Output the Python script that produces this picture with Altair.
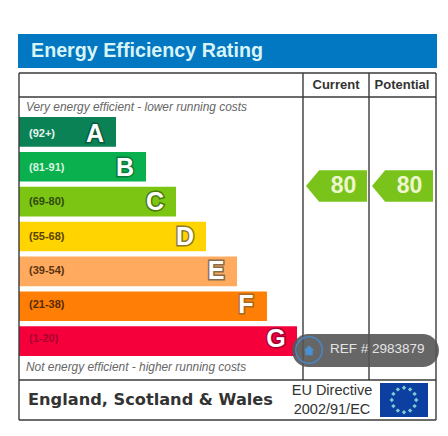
import math
import altair as alt

bands = ["A", "B", "C", "D", "E", "F", "G"]
ranges = ["(92+)", "(81-91)", "(69-80)", "(55-68)", "(39-54)", "(21-38)", "(1-20)"]
lengths = [97, 127, 157, 187, 218, 248, 278]
band_colors = ["#0a8256", "#0ab04e", "#7cc512", "#ffd400", "#ffaa5e", "#ff7f06", "#f6003c"]
label_colors = ["#e8f5ee", "#d8f5e0", "#2f4a10", "#5a4300", "#5a3312", "#5a2a05", "#a80030"]
letter_strokes = ["#0a5a3c", "#0a7a3c", "#4a7a10", "#8a7a30", "#8a6a4a", "#a86a20", "#a80030"]
columns = ["Current", "Potential"]
ratings = [80, 80]


def fx(v):
    return v - 8


def fy(v):
    return v - 8


one = alt.Data(values=[{"a": 1}])
layers = []


def rect(x1, y1, x2, y2, color, **kw):
    return alt.Chart(one).mark_rect(color=color, **kw).encode(
        x=alt.value(fx(x1)), x2=alt.value(fx(x2)), y=alt.value(fy(y1)), y2=alt.value(fy(y2)))


def rule(x1, y1, x2, y2, width=1.4, color="#3a3a3a"):
    return alt.Chart(one).mark_rule(color=color, strokeWidth=width).encode(
        x=alt.value(fx(x1)), x2=alt.value(fx(x2)), y=alt.value(fy(y1)), y2=alt.value(fy(y2)))


def label(x, y, s, **kw):
    return alt.Chart(one).mark_text(text=s, baseline="middle", **kw).encode(
        x=alt.value(fx(x)), y=alt.value(fy(y)))


# header
layers.append(rect(18, 34, 437, 68, "#0277c2"))
layers.append(label(31, 51, "Energy Efficiency Rating", align="left", font="Liberation Sans",
                    fontSize=19.7, fontWeight="bold", color="#d8f4f6"))

# bands
rows = [dict(band=b, rng=r, length=l, fill=c, lab=lc, st=s)
        for b, r, l, c, lc, s in zip(bands, ranges, lengths, band_colors, label_colors, letter_strokes)]
src = alt.Data(values=rows)
xs = alt.Scale(domain=[-11, 421], range=[0, 432])
ys = alt.Scale(domain=bands, range=[109, 348], paddingInner=0.15, paddingOuter=0)
X = alt.X("length:Q", scale=xs, axis=None)
Y = alt.Y("band:N", scale=ys, axis=None)
layers.append(alt.Chart(src).mark_bar(stroke=None).encode(
    x=X.stack(None), y=Y, color=alt.Color("fill:N", scale=None)))
layers.append(alt.Chart(src).mark_text(align="left", baseline="middle", font="Liberation Sans",
                                       fontSize=11, fontWeight="bold").encode(
    x=alt.value(fx(29)), y=Y, text="rng:N", color=alt.Color("lab:N", scale=None)))
layers.append(alt.Chart(src).mark_text(align="center", baseline="middle", font="Liberation Sans",
                                       fontSize=25, fontWeight="bold", dx=-21,
                                       strokeWidth=3).encode(
    x=X, y=Y, text="band:N", stroke=alt.Stroke("st:N", scale=None)))
layers.append(alt.Chart(src).mark_text(align="center", baseline="middle", font="Liberation Sans",
                                       fontSize=25, fontWeight="bold", dx=-21,
                                       fill="#ffffff").encode(
    x=X, y=Y, text="band:N"))

# frame
for seg in [(19, 73, 436, 73), (19, 97, 436, 97), (19, 380, 436, 380), (19, 420, 436, 420),
            (19, 73, 19, 420), (436, 73, 436, 420), (303, 73, 303, 380), (369, 73, 369, 380)]:
    layers.append(rule(*seg))

# column heads & rating arrows
arrow = alt.Data(values=[dict(col=c, rating=r) for c, r in zip(columns, ratings)])
cx = alt.X("col:N", scale=alt.Scale(domain=columns, range=[328.5, 394.5], type="point", padding=0),
           axis=None)
ry = alt.Y("rating:Q", scale=alt.Scale(domain=[0, 100], range=[348, 135.5]), axis=None)
tag = "M-1 0L-0.57 -0.52L1 -0.52L1 0.52L-0.57 0.52Z"
layers.append(alt.Chart(arrow).mark_point(shape=tag, size=61 * 61, filled=True, opacity=1,
                                          color="#79c31b", strokeWidth=0).encode(x=cx, y=ry))
layers.append(alt.Chart(arrow).mark_text(font="Liberation Sans", fontSize=23, fontWeight="bold",
                                         color="#eef6d0", dx=7, baseline="middle").encode(
    x=cx, y=ry, text="rating:Q"))
layers.append(label(336, 85, "Current", align="center", font="Liberation Sans", fontSize=13,
                    fontWeight="bold", color="#333333"))
layers.append(label(402, 85, "Potential", align="center", font="Liberation Sans", fontSize=13,
                    fontWeight="bold", color="#333333"))

# captions
layers.append(label(26, 107, "Very energy efficient - lower running costs", align="left",
                    font="Liberation Sans", fontSize=11.9, fontStyle="italic", color="#666666"))
layers.append(label(26, 367, "Not energy efficient - higher running costs", align="left",
                    font="Liberation Sans", fontSize=11.9, fontStyle="italic", color="#666666"))
layers.append(label(28, 400, "England, Scotland & Wales", align="left", font="DejaVu Sans",
                    fontSize=16.2, fontWeight="bold", color="#333333"))
layers.append(label(332, 391, "EU Directive", align="center", font="Liberation Sans", fontSize=14.5,
                    color="#333333"))
layers.append(label(332, 410, "2002/91/EC", align="center", font="Liberation Sans", fontSize=14.5,
                    color="#333333"))

# EU flag
layers.append(rect(380, 383, 428, 417, "#0c3f9f"))
dots = []
for k in range(12):
    a = math.pi * k / 6
    cx0, cy0 = 0.72 * math.cos(a), 0.72 * math.sin(a)
    d = 0.13
    dots.append(f"M{cx0 - d:.3f} {cy0:.3f}L{cx0:.3f} {cy0 - d:.3f}L{cx0 + d:.3f} {cy0:.3f}L{cx0:.3f} {cy0 + d:.3f}Z")
layers.append(alt.Chart(one).mark_point(shape="".join(dots), size=34 * 34, filled=True, opacity=1,
                                        color="#7fcbd6", strokeWidth=0).encode(
    x=alt.value(fx(404)), y=alt.value(fy(400))))

# reference pill
layers.append(rect(292, 334, 439, 367, "#555555", cornerRadius=16.5, opacity=0.9))
layers.append(alt.Chart(one).mark_point(shape="circle", size=700, filled=False, opacity=1,
                                        color="#4a86c0", strokeWidth=1.5).encode(
    x=alt.value(fx(309)), y=alt.value(fy(350))))
layers.append(alt.Chart(one).mark_point(shape="M-1 0.1L0 -0.9L1 0.1L0.7 0.1L0.7 1L-0.7 1L-0.7 0.1Z",
                                        size=110, filled=True, opacity=1, color="#4a90d0",
                                        strokeWidth=0).encode(
    x=alt.value(fx(309)), y=alt.value(fy(350))))
layers.append(label(330, 349, "REF # 2983879", align="left", font="Liberation Sans", fontSize=13.5,
                    color="#e4e4e4"))

chart = alt.layer(*layers).resolve_scale(x="independent", y="independent", color="independent",
                                         stroke="independent").properties(
    width=432, height=420, padding=0, autosize=alt.AutoSizeParams(type="none"),
    background="white").configure_view(stroke=None)
chart.save("out.html", embed_options={"renderer": "svg", "actions": False})
